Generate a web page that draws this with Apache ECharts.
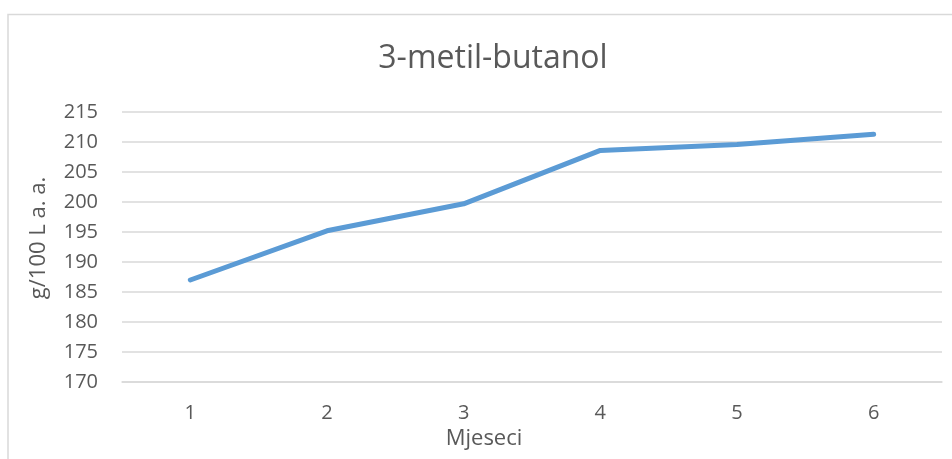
<!DOCTYPE html>
<html>
<head>
<meta charset="utf-8">
<script src="https://cdn.jsdelivr.net/npm/echarts@6/dist/echarts.min.js"></script>
<style>html,body{margin:0;padding:0;background:#fff}#c{width:952px;height:459px}</style>
</head>
<body>
<div id="c"></div>
<script>
const categories = ['1', '2', '3', '4', '5', '6'];
const values = [187.0, 195.2, 199.7, 208.6, 209.6, 211.3];
const titleText = '3-metil-butanol';
const xName = 'Mjeseci';
const yName = 'g/100 L a. a.';

const chart = echarts.init(document.getElementById('c'));
const font = "'Open Sans', 'Noto Sans', sans-serif";
chart.setOption({
  animation: false,
  graphic: [{
    type: 'polyline',
    shape: { points: [[8, 459], [8, 14.5], [952, 14.5]] },
    style: { stroke: '#d9d9d9', lineWidth: 1.5, fill: null }
  }],
  title: {
    text: titleText,
    left: 488, top: 38, textAlign: 'center',
    textStyle: { fontFamily: font, fontSize: 32, fontWeight: 'normal', color: '#595959' }
  },
  grid: { left: 122, top: 112, width: 820, height: 270 },
  xAxis: {
    type: 'category', data: categories, boundaryGap: true,
    name: xName, nameLocation: 'middle', nameGap: 46,
    nameTextStyle: { fontFamily: font, fontSize: 22, color: '#595959', padding: [0, 96, 0, 0] },
    axisLine: { show: true, lineStyle: { color: '#d9d9d9', width: 1.5 } },
    axisTick: { show: false },
    axisLabel: { fontFamily: font, fontSize: 20, color: '#595959', margin: 21 }
  },
  yAxis: {
    type: 'value', min: 170, max: 215, interval: 5,
    name: yName, nameLocation: 'middle', nameGap: 72,
    nameTextStyle: { fontFamily: font, fontSize: 22, color: '#595959', padding: [0, 0, 0, 18] },
    axisLine: { show: false }, axisTick: { show: false },
    axisLabel: { fontFamily: font, fontSize: 20, color: '#595959', margin: 24 },
    splitLine: { lineStyle: { color: '#d9d9d9', width: 1.5 } }
  },
  series: [{
    type: 'line', data: values, showSymbol: false, symbol: 'none',
    lineStyle: { color: '#5B9BD5', width: 5, cap: 'round', join: 'round' }
  }]
});
</script>
</body>
</html>
